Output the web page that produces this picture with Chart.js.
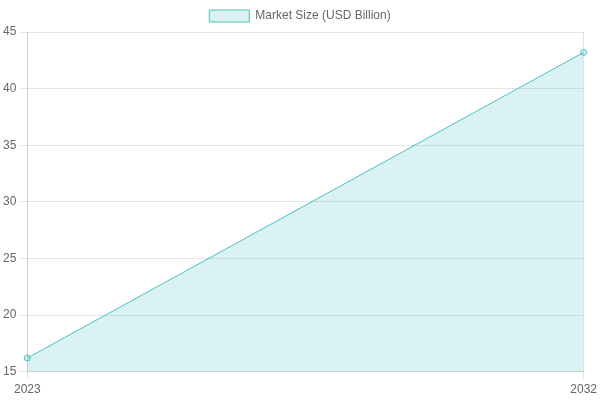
<!DOCTYPE html>
<html>
<head>
<meta charset="utf-8">
<script src="https://cdn.jsdelivr.net/npm/chart.js@4"></script>
<style>
  body { margin: 0; background: #fff; }
  #wrap { width: 600px; height: 400px; }
</style>
</head>
<body>
<div id="wrap"><canvas id="marketChart"></canvas></div>
<script>
const years = ['2023', '2032'];
const marketSize = [16.2, 43.2];
const seriesLabel = 'Market Size (USD Billion)';

const ctx = document.getElementById('marketChart').getContext('2d');
const marketChart = new Chart(ctx, {
    type: 'line',
    data: {
        labels: years,
        datasets: [
            {
                label: seriesLabel,
                data: marketSize,
                borderColor: 'rgb(75, 192, 192)',
                backgroundColor: 'rgba(75, 192, 192, 0.2)',
                borderWidth: 1,
                fill: true,
                tension: 0
            }
        ]
    },
    options: {
        responsive: true,
        maintainAspectRatio: false,
        animation: false,
        scales: {
            y: {
                min: 15,
                max: 45,
                ticks: { stepSize: 5 }
            }
        }
    }
});
</script>
</body>
</html>
